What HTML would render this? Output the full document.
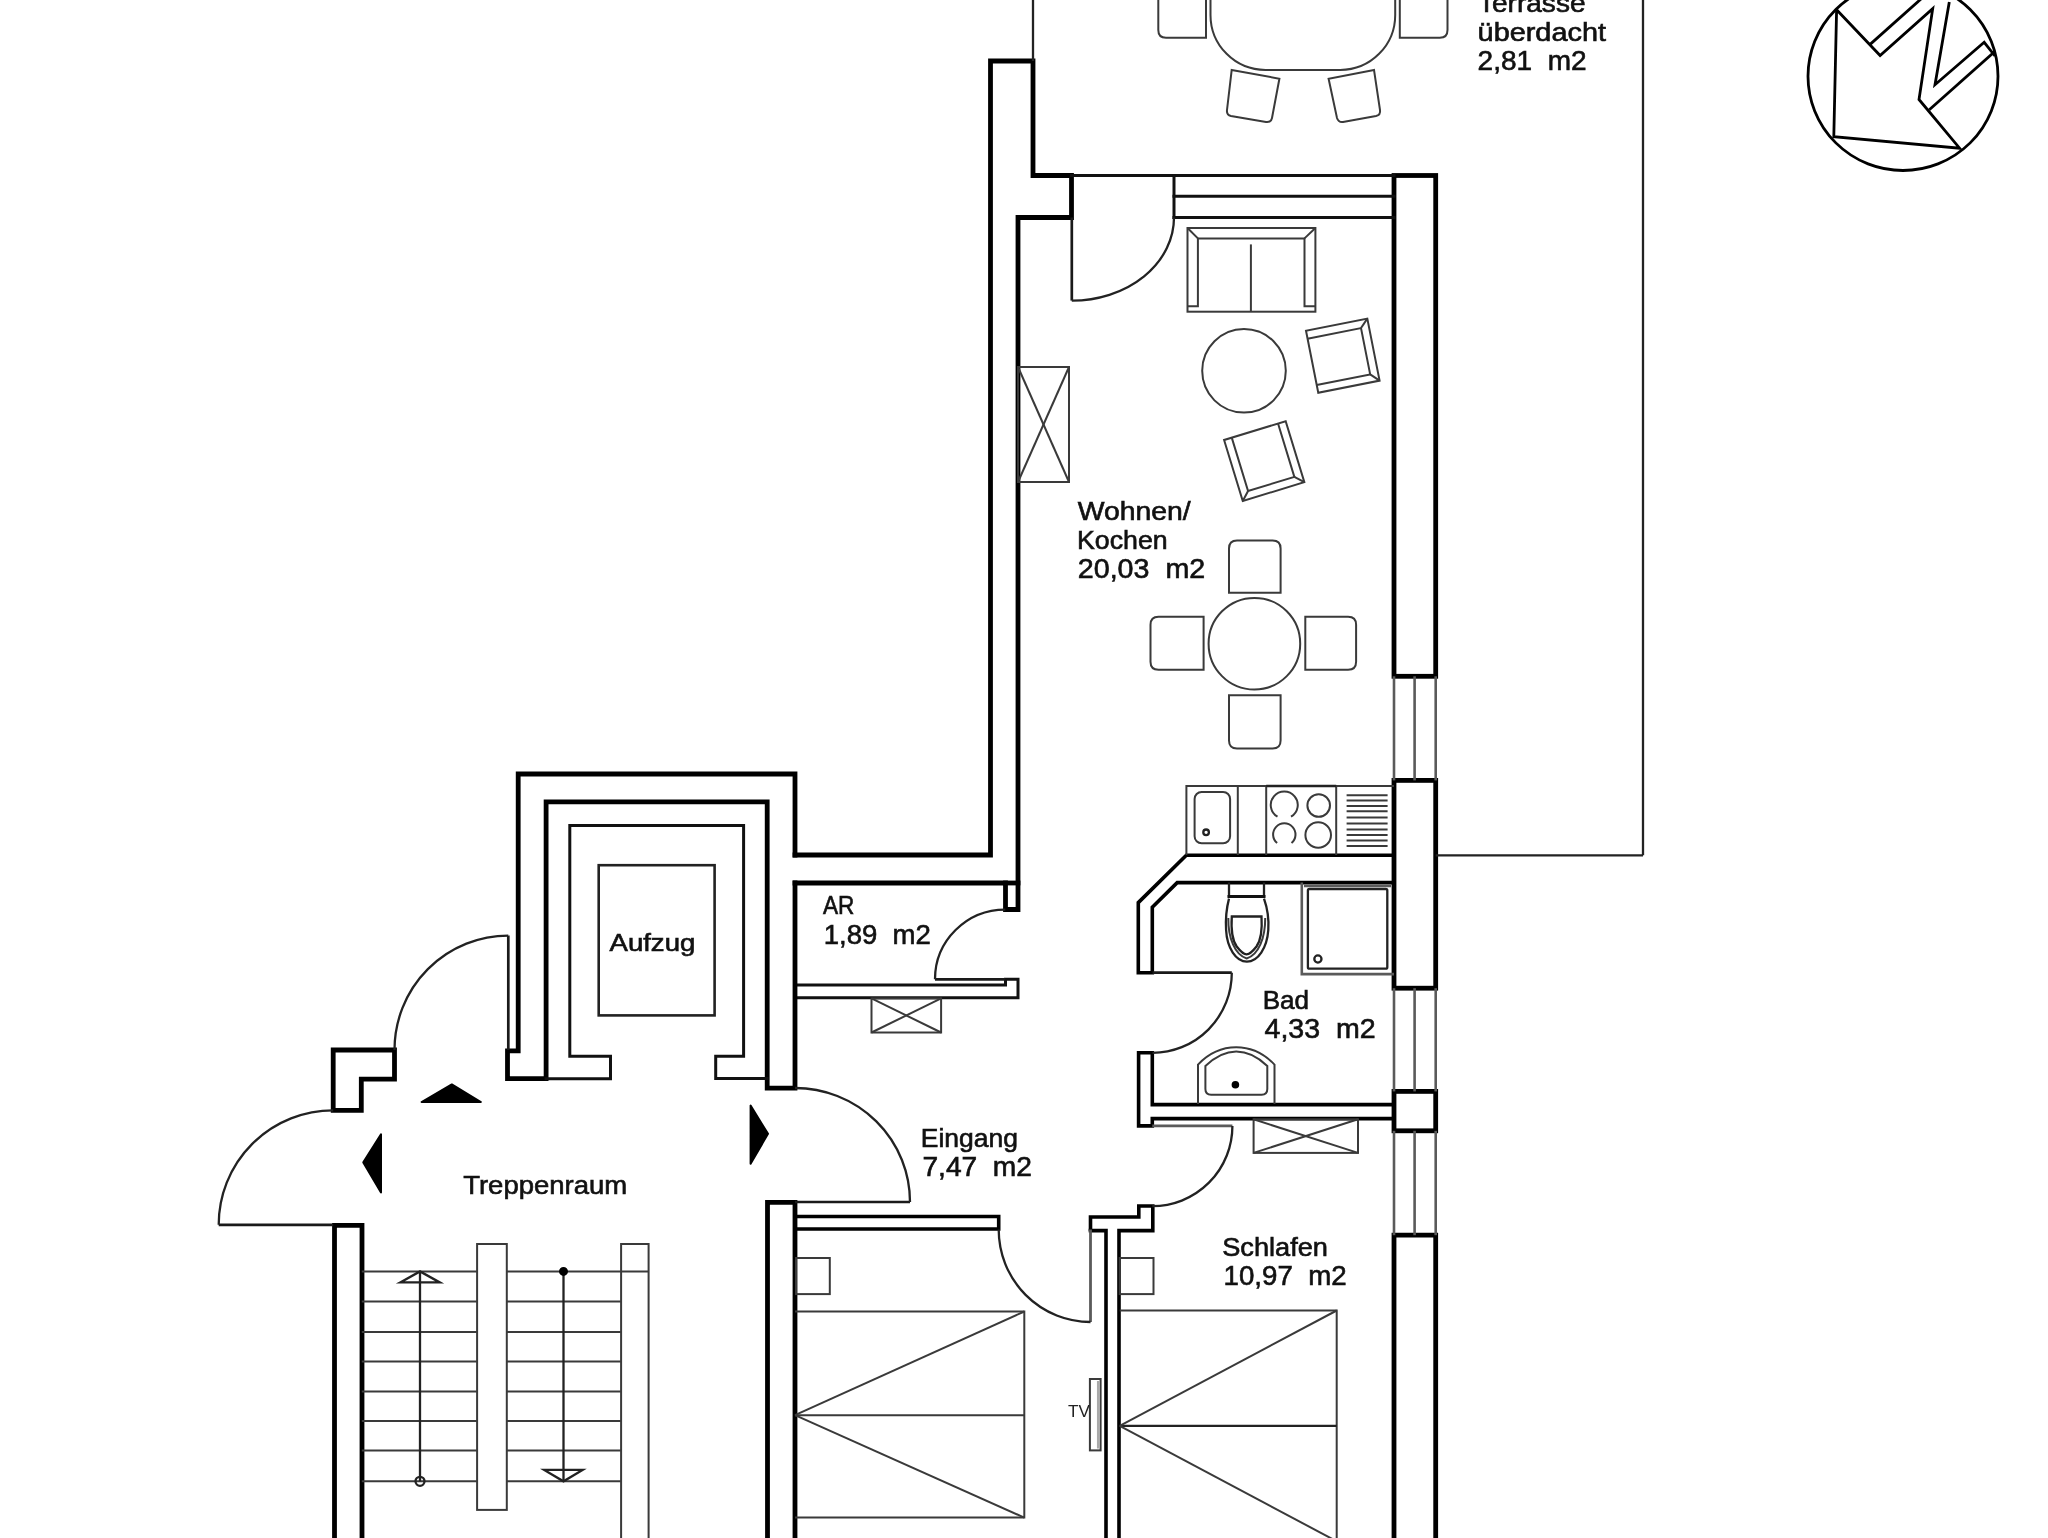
<!DOCTYPE html>
<html><head><meta charset="utf-8"><title>Grundriss</title><style>
html,body{margin:0;padding:0;background:#fff;}
svg{display:block;filter:blur(0.45px);}
.w{fill:none;stroke:#000;stroke-width:4.8;stroke-linejoin:miter;stroke-linecap:square;}
.w2{fill:none;stroke:#000;stroke-width:3.6;stroke-linejoin:miter;stroke-linecap:square;}
.m{fill:none;stroke:#111;stroke-width:3;stroke-linecap:square;}
.m2{fill:none;stroke:#222;stroke-width:2.6;}
.t{fill:none;stroke:#222;stroke-width:2.3;}
.f{fill:none;stroke:#3a3a3a;stroke-width:2;}
.g{fill:none;stroke:#5a5a5a;stroke-width:2.6;}
.lf{fill:none;stroke:#1a1a1a;stroke-width:2.7;}
.lg{fill:none;stroke:#aaa;stroke-width:2.5;}
.g3{fill:none;stroke:#5a5a5a;stroke-width:2.8;}
.na{fill:none;stroke:#000;stroke-width:2.8;stroke-linejoin:miter;}
.fill{fill:#000;stroke:#000;stroke-width:2;stroke-linejoin:round;}
.tx{font-family:"Liberation Sans",sans-serif;fill:#111;stroke:#111;stroke-width:0.6;white-space:pre;opacity:0.999;}
.tv{font-family:"Liberation Sans",sans-serif;fill:#222;white-space:pre;opacity:0.999;}
</style></head>
<body><svg width="2048" height="1538" viewBox="0 0 2048 1538">
<rect x="0" y="0" width="2048" height="1538" fill="#fff"/>
<path class="w" d="M795 855 H990.5 V61 H1033 V175.5 H1071.5 V217.5 H1018 V909.5 H1005.5 V883 H795"/>
<line class="w" x1="1018" y1="883" x2="1005.5" y2="883"/>
<path class="m" d="M795 985 H1005.5 V979.3 H1018 V997.7 H795"/>
<rect class="w" x="1394" y="175.5" width="41.700000000000045" height="500.79999999999995"/>
<rect class="w" x="1394" y="780.4" width="41.700000000000045" height="207.80000000000007"/>
<rect class="w" x="1394" y="1091.4" width="41.700000000000045" height="39.399999999999864"/>
<path class="w" d="M1394 1560 V1235.2 H1435.7 V1560"/>
<path class="w" d="M795 855 V774 H518.2 V1050.8 H507.5 V1078.7 H546.1 V801.9 H767.2 V1088.1 H795 V883"/>
<path class="m" d="M546.1 1078.7 H610.5 V1056.2 H569.8 V825.5 H743.6 V1056.2 H715.7 V1078.4 H767.2"/>
<rect class="m2" x="598.7" y="865.2" width="115.89999999999998" height="150.19999999999993"/>
<path class="w" d="M333.2 1050 H394.5 V1079.2 H361.3 V1110.4 H333.2 Z"/>
<path class="w" d="M334.5 1560 V1225.3 H362 V1560"/>
<path class="w" d="M767.5 1560 V1202.3 H795 V1560"/>
<path class="w2" d="M795 1216.5 H998.7 V1229 H795"/>
<path class="w2" d="M1090.5 1229.5 V1217 H1138.8 V1206 H1152.8 V1230.6 H1119 V1560"/>
<path class="w2" d="M1090.5 1230.6 H1106 V1560"/>
<path class="w2" d="M1393 855.3 H1186.3 L1138.3 902.6 V972.7 H1152.3 V907.2 L1177.2 882.6 H1393"/>
<path class="w2" d="M1393 1104.6 H1152.3 V1052.8 H1138.6 V1125.9 H1152.3 V1118.6 H1393"/>
<line class="m" x1="1071.5" y1="175.5" x2="1394" y2="175.5"/>
<line class="m" x1="1174" y1="196.3" x2="1394" y2="196.3"/>
<line class="m" x1="1174" y1="217.5" x2="1394" y2="217.5"/>
<line class="m" x1="1174" y1="175.5" x2="1174" y2="217.5"/>
<line class="g" x1="1394" y1="676.3" x2="1394" y2="780.4"/>
<line class="g" x1="1414.6" y1="676.3" x2="1414.6" y2="780.4"/>
<line class="g" x1="1435.7" y1="676.3" x2="1435.7" y2="780.4"/>
<line class="g" x1="1394" y1="988.2" x2="1394" y2="1091.4"/>
<line class="g" x1="1414.6" y1="988.2" x2="1414.6" y2="1091.4"/>
<line class="g" x1="1435.7" y1="988.2" x2="1435.7" y2="1091.4"/>
<line class="g" x1="1394" y1="1130.8" x2="1394" y2="1235.2"/>
<line class="g" x1="1414.6" y1="1130.8" x2="1414.6" y2="1235.2"/>
<line class="g" x1="1435.7" y1="1130.8" x2="1435.7" y2="1235.2"/>
<line class="t" x1="1033" y1="-5" x2="1033" y2="61"/>
<line class="t" x1="1643" y1="-5" x2="1643" y2="855.3"/>
<line class="t" x1="1435.7" y1="855.3" x2="1643" y2="855.3"/>
<line class="lf" x1="1071.8" y1="217.5" x2="1071.8" y2="300.6"/>
<path class="t" d="M1071.8 300.6 A102 83 0 0 0 1174 217.5"/>
<line class="lf" x1="1005.3" y1="979.3" x2="935" y2="979.3"/>
<path class="t" d="M935 979.3 A70.3 69.7 0 0 1 1005.3 909.6"/>
<line class="lf" x1="1152.6" y1="972.7" x2="1231.8" y2="972.7"/>
<path class="t" d="M1231.8 972.7 A79.2 80.1 0 0 1 1152.6 1052.8"/>
<line class="g" x1="1152.3" y1="1125.9" x2="1232.4" y2="1125.9"/>
<path class="t" d="M1232.4 1125.9 A80.1 80.3 0 0 1 1152.3 1206.2"/>
<line class="g3" x1="1090.5" y1="1229.5" x2="1090.5" y2="1322"/>
<path class="t" d="M1090.5 1322 A91.8 92.5 0 0 1 998.7 1229.5"/>
<line class="lf" x1="795" y1="1202" x2="910" y2="1202"/>
<path class="t" d="M910 1202 A115 114 0 0 0 795 1088"/>
<line class="lf" x1="508.3" y1="1050" x2="508.3" y2="935.6"/>
<path class="t" d="M508.3 935.6 A113.8 114.4 0 0 0 394.5 1050"/>
<line class="lf" x1="333.2" y1="1224.8" x2="218.7" y2="1224.8"/>
<path class="t" d="M218.7 1224.8 A114.5 114.4 0 0 1 333.2 1110.4"/>
<path class="fill" d="M421.6 1102 L451.8 1084.4 L480.9 1102 Z"/>
<path class="fill" d="M363.3 1162.4 L381 1134.3 L381 1192.6 Z"/>
<path class="fill" d="M768 1133.8 L750.6 1105.6 L750.6 1163.7 Z"/>
<rect class="f" x="1018" y="367" width="51" height="115"/>
<line class="f" x1="1018" y1="367" x2="1069" y2="482"/>
<line class="f" x1="1069" y1="367" x2="1018" y2="482"/>
<rect class="f" x="871.5" y="998.4" width="69.60000000000002" height="34.10000000000002"/>
<line class="f" x1="871.5" y1="998.4" x2="941.1" y2="1032.5"/>
<line class="f" x1="941.1" y1="998.4" x2="871.5" y2="1032.5"/>
<rect class="f" x="1253.6" y="1119.3" width="104.40000000000009" height="33.600000000000136"/>
<line class="f" x1="1253.6" y1="1119.3" x2="1358" y2="1152.9"/>
<line class="f" x1="1358" y1="1119.3" x2="1253.6" y2="1152.9"/>
<rect class="f" x="477.1" y="1244" width="29.69999999999999" height="265.9000000000001"/>
<path class="f" d="M621.1 1560 V1244 H648.6 V1560"/>
<line class="f" x1="361.8" y1="1271.4" x2="477.1" y2="1271.4"/>
<line class="f" x1="506.8" y1="1271.4" x2="648.6" y2="1271.4"/>
<line class="f" x1="361.8" y1="1301.5" x2="477.1" y2="1301.5"/>
<line class="f" x1="506.8" y1="1301.5" x2="621.1" y2="1301.5"/>
<line class="f" x1="361.8" y1="1331.9" x2="477.1" y2="1331.9"/>
<line class="f" x1="506.8" y1="1331.9" x2="621.1" y2="1331.9"/>
<line class="f" x1="361.8" y1="1361.5" x2="477.1" y2="1361.5"/>
<line class="f" x1="506.8" y1="1361.5" x2="621.1" y2="1361.5"/>
<line class="f" x1="361.8" y1="1391.6" x2="477.1" y2="1391.6"/>
<line class="f" x1="506.8" y1="1391.6" x2="621.1" y2="1391.6"/>
<line class="f" x1="361.8" y1="1420.9" x2="477.1" y2="1420.9"/>
<line class="f" x1="506.8" y1="1420.9" x2="621.1" y2="1420.9"/>
<line class="f" x1="361.8" y1="1450.5" x2="477.1" y2="1450.5"/>
<line class="f" x1="506.8" y1="1450.5" x2="621.1" y2="1450.5"/>
<line class="f" x1="361.8" y1="1481.3" x2="477.1" y2="1481.3"/>
<line class="f" x1="506.8" y1="1481.3" x2="621.1" y2="1481.3"/>
<line class="t" x1="420" y1="1271.4" x2="420" y2="1481.3"/>
<path class="t" d="M400.2 1282.4 L420 1271.4 L439.8 1282.4 Z"/>
<circle class="t" cx="420" cy="1481.3" r="4.5"/>
<line class="t" x1="563.5" y1="1271.4" x2="563.5" y2="1481.3"/>
<circle class="fill" cx="563.5" cy="1271.4" r="3.5"/>
<path class="t" d="M544.2 1469.9 L582.6 1469.9 L563.5 1481.3 Z"/>
<path class="f" d="M1186.4 855 V786 H1394"/>
<line class="f" x1="1237.8" y1="786" x2="1237.8" y2="855"/>
<line class="f" x1="1266.2" y1="786" x2="1266.2" y2="855"/>
<line class="f" x1="1336.2" y1="786" x2="1336.2" y2="855"/>
<line class="t" x1="1266.2" y1="786" x2="1336.2" y2="786"/>
<rect class="f" x="1194.6" y="791.9" width="35.5" height="51.39999999999998" rx="7"/>
<circle class="t" cx="1206.1" cy="832.3" r="2.8"/>
<path class="f" d="M1277.5 816.7 A13.5 13.5 0 1 1 1291.0 816.7"/>
<path class="f" d="M1277.1 843.1 A11.2 11.2 0 1 1 1291.5 843.1"/>
<circle class="f" cx="1318.7" cy="805.5" r="11.3"/>
<circle class="f" cx="1318.2" cy="835" r="12.8"/>
<line class="f" x1="1346.6" y1="795.2" x2="1387.6" y2="795.2"/>
<line class="f" x1="1346.6" y1="800.6" x2="1387.6" y2="800.6"/>
<line class="f" x1="1346.6" y1="806.1" x2="1387.6" y2="806.1"/>
<line class="f" x1="1346.6" y1="811.3" x2="1387.6" y2="811.3"/>
<line class="f" x1="1346.6" y1="817.6" x2="1387.6" y2="817.6"/>
<line class="f" x1="1346.6" y1="823.6" x2="1387.6" y2="823.6"/>
<line class="f" x1="1346.6" y1="829.6" x2="1387.6" y2="829.6"/>
<line class="f" x1="1346.6" y1="835.1" x2="1387.6" y2="835.1"/>
<line class="f" x1="1346.6" y1="840.5" x2="1387.6" y2="840.5"/>
<line class="f" x1="1346.6" y1="846" x2="1387.6" y2="846"/>
<path class="t" d="M1229 882.6 V897.2 M1264 882.6 V897.2"/>
<line class="m" x1="1229" y1="896.5" x2="1264" y2="896.5"/>
<path class="t" d="M1229 898.6 C1226 910 1225.5 920 1226.1 930 C1227 948 1236 961.6 1246.9 961.6 C1258 961.6 1267 948 1268.3 930 C1269 920 1268 910 1264 898.6"/>
<path class="f" d="M1228.3 918 C1228 938 1235 955 1246.7 958.5 C1258.4 955 1265.4 938 1265.2 918"/>
<path class="t" d="M1231.8 916.5 H1261.5 C1262.5 932 1261 940 1256.5 946.5 C1253 951 1249.5 954.4 1246.6 954.4 C1243.7 954.4 1240.2 951 1236.7 946.5 C1232.2 940 1230.8 932 1231.8 916.5 Z"/>
<path class="g" d="M1301.8 882.6 V974.1 H1394"/>
<rect class="t" x="1307.9" y="889" width="79.39999999999986" height="79.70000000000005" rx="1.5"/>
<line class="g" x1="1304" y1="886" x2="1391" y2="886"/>
<circle class="t" cx="1317.9" cy="959" r="3.6"/>
<path class="f" d="M1198 1104 V1064.6 C1210 1052 1224 1047.3 1236.2 1047.3 C1248.4 1047.3 1262.5 1052 1274.5 1064.6 V1104"/>
<path class="f" d="M1205.4 1066 C1216 1056 1226 1051.5 1236.2 1051.5 C1246.4 1051.5 1257 1056 1267.3 1066 V1089 Q1267.3 1094.7 1261.6 1094.7 H1211.1 Q1205.4 1094.7 1205.4 1089 Z"/>
<circle class="fill" cx="1235.4" cy="1084.7" r="2.8"/>
<rect class="f" x="1187.5" y="228" width="127.90000000000009" height="83.69999999999999"/>
<path class="f" d="M1187.5 306.2 H1197.9 V238.4 H1304.5 V306.2 H1315.4"/>
<line class="f" x1="1187.5" y1="228" x2="1197.9" y2="238.4"/>
<line class="f" x1="1315.4" y1="228" x2="1304.5" y2="238.4"/>
<line class="f" x1="1250.9" y1="244.4" x2="1250.9" y2="311.7"/>
<circle class="f" cx="1244" cy="370.8" r="41.8"/>
<g transform="translate(1306 330.8) rotate(-11.2)">
<rect class="f" x="0" y="0" width="62.5" height="63.2"/>
<path class="f" d="M0 8 H54.5 V55.2 H0"/>
<line class="f" x1="54.5" y1="8" x2="62.5" y2="0"/>
<line class="f" x1="54.5" y1="55.2" x2="62.5" y2="63.2"/>
</g>
<g transform="translate(1224.1 440) rotate(-17)">
<rect class="f" x="0" y="0" width="64.4" height="63.8"/>
<path class="f" d="M8 0 V55.8 H56.4 V0"/>
<line class="f" x1="8" y1="55.8" x2="0" y2="63.8"/>
<line class="f" x1="56.4" y1="55.8" x2="64.4" y2="63.8"/>
</g>
<circle class="f" cx="1254.4" cy="643.7" r="45.8"/>
<path class="f" d="M1229 592.8 V548.5 Q1229 540.5 1237 540.5 H1272.6 Q1280.6 540.5 1280.6 548.5 V592.8 Z"/>
<path class="f" d="M1229 695.3 V740.4 Q1229 748.4 1237 748.4 H1272.6 Q1280.6 748.4 1280.6 740.4 V695.3 Z"/>
<path class="f" d="M1203.6 616.7 H1158.5 Q1150.5 616.7 1150.5 624.7 V661.8 Q1150.5 669.8 1158.5 669.8 H1203.6 Z"/>
<path class="f" d="M1305.3 616.7 H1348.1 Q1356.1 616.7 1356.1 624.7 V661.8 Q1356.1 669.8 1348.1 669.8 H1305.3 Z"/>
<rect class="f" x="1210.5" y="-120" width="184.70000000000005" height="189.9" rx="55"/>
<path class="f" d="M1158.3 -5 V30 Q1158.3 37.8 1166 37.8 H1206 V-5"/>
<path class="f" d="M1447.5 -5 V30 Q1447.5 37.8 1439.8 37.8 H1399.8 V-5"/>
<path class="f" d="M1231.7 69.9 L1279.4 78.7 L1272 118 Q1271.1 122.6 1266 122 L1231 116 Q1226.4 115 1227 110 Z"/>
<path class="f" d="M1374 69.9 L1328.6 78.7 L1337 118 Q1338.5 122.6 1343 122 L1376 116 Q1380.8 115 1380 110 Z"/>
<rect class="f" x="796" y="1258" width="33.799999999999955" height="36.09999999999991"/>
<path class="f" d="M795 1311.5 H1024.3 V1517.6 H795"/>
<line class="f" x1="795" y1="1415.2" x2="1024.3" y2="1415.2"/>
<line class="f" x1="795" y1="1415.2" x2="1024.3" y2="1311.5"/>
<line class="f" x1="795" y1="1415.2" x2="1024.3" y2="1517.6"/>
<rect class="f" x="1119.7" y="1258" width="33.799999999999955" height="36.09999999999991"/>
<path class="f" d="M1119.7 1310.5 H1336.7 V1560"/>
<line class="t" x1="1119.7" y1="1425.9" x2="1336.7" y2="1425.9"/>
<line class="f" x1="1119.7" y1="1425.9" x2="1336.7" y2="1310.5"/>
<line class="f" x1="1119.7" y1="1425.9" x2="1336.7" y2="1541.3"/>
<rect class="f" x="1089.9" y="1379" width="10.699999999999818" height="71.40000000000009"/>
<line class="lg" x1="1098.2" y1="1381" x2="1098.2" y2="1448.5"/>
<g class="na">
<clipPath id="cc"><ellipse cx="1903" cy="76.2" rx="95" ry="94.3"/></clipPath>
<ellipse class="na" cx="1903" cy="76.2" rx="95" ry="94.3"/>
<g clip-path="url(#cc)">
<path class="na" d="M1836.6 9.7 L1880.1 55.5 L1932.7 8.6 L1919 99.5 L1959.6 148.2 L1833.8 136.7 Z"/>
<path class="na" d="M1869.8 44.6 L1948.7 -25.7"/>
<path class="na" d="M1949.3 2 L1935 84.7 L1984.2 42.3 L1995 56"/>
<path class="na" d="M1929.3 109.8 L2010 38"/>
</g></g>
<g style="filter:grayscale(1)">
<text class="tx" x="1478" y="11.8" font-size="25" textLength="107.5" lengthAdjust="spacingAndGlyphs">Terrasse</text>
<text class="tx" x="1477.6" y="41.4" font-size="25" textLength="128.4" lengthAdjust="spacingAndGlyphs">überdacht</text>
<text class="tx" x="1477.6" y="70.4" font-size="27" textLength="109.0" lengthAdjust="spacingAndGlyphs">2,81  m2</text>
<text class="tx" x="1077.8" y="520.1" font-size="25" textLength="112.9" lengthAdjust="spacingAndGlyphs">Wohnen/</text>
<text class="tx" x="1077" y="549.4" font-size="25" textLength="90.7" lengthAdjust="spacingAndGlyphs">Kochen</text>
<text class="tx" x="1077.8" y="578.3" font-size="27" textLength="127.4" lengthAdjust="spacingAndGlyphs">20,03  m2</text>
<text class="tx" x="823" y="914.4" font-size="25" textLength="31.4" lengthAdjust="spacingAndGlyphs">AR</text>
<text class="tx" x="823.7" y="943.8" font-size="27" textLength="107.2" lengthAdjust="spacingAndGlyphs">1,89  m2</text>
<text class="tx" x="609.5" y="951" font-size="23" textLength="85.8" lengthAdjust="spacingAndGlyphs">Aufzug</text>
<text class="tx" x="1262.7" y="1009.1" font-size="25" textLength="46.4" lengthAdjust="spacingAndGlyphs">Bad</text>
<text class="tx" x="1264.5" y="1038.2" font-size="27" textLength="111.1" lengthAdjust="spacingAndGlyphs">4,33  m2</text>
<text class="tx" x="920.8" y="1147.1" font-size="25" textLength="97.1" lengthAdjust="spacingAndGlyphs">Eingang</text>
<text class="tx" x="922.4" y="1176.1" font-size="27" textLength="109.6" lengthAdjust="spacingAndGlyphs">7,47  m2</text>
<text class="tx" x="463.2" y="1193.7" font-size="25" textLength="164.0" lengthAdjust="spacingAndGlyphs">Treppenraum</text>
<text class="tx" x="1222.2" y="1255.9" font-size="25" textLength="105.8" lengthAdjust="spacingAndGlyphs">Schlafen</text>
<text class="tx" x="1223.6" y="1285.2" font-size="27" textLength="123.0" lengthAdjust="spacingAndGlyphs">10,97  m2</text>
<text class="tv" x="1068" y="1417.3" font-size="16.5" textLength="21.8" lengthAdjust="spacingAndGlyphs">TV</text>
</g>
</svg></body></html>
